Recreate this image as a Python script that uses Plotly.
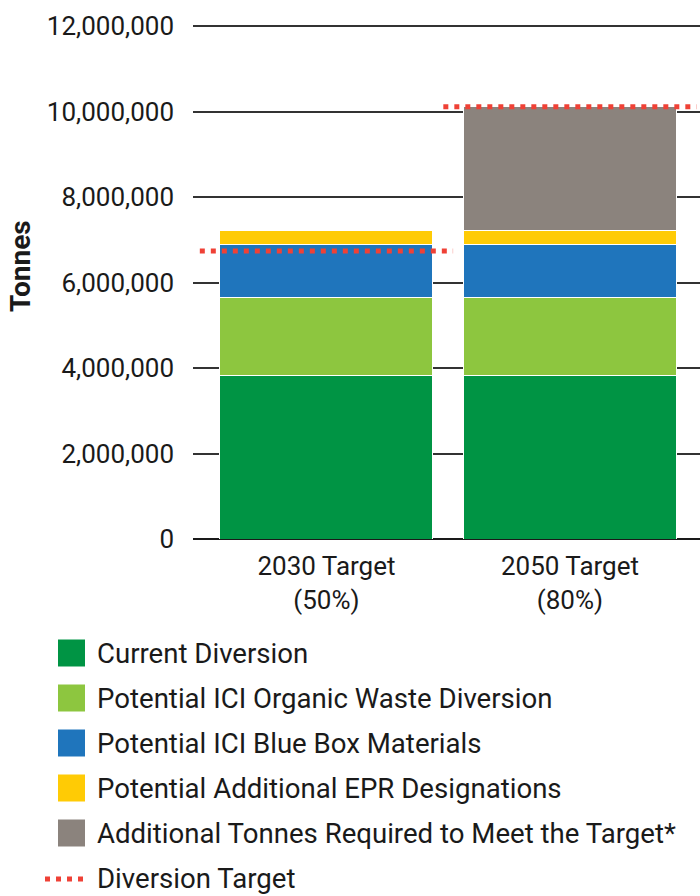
import plotly.graph_objects as go

# Data
categories = ["2030 Target<br>(50%)", "2050 Target<br>(80%)"]
current_diversion = [3820000, 3820000]
organic_waste = [1830000, 1830000]
blue_box = [1230000, 1230000]
epr_designations = [340000, 340000]
additional_required = [0, 2900000]
diversion_target = [6740000, 10110000]
y_ticks = [0, 2000000, 4000000, 6000000, 8000000, 10000000, 12000000]

series = [
    ("Current Diversion", current_diversion, "#009444"),
    ("Potential ICI Organic Waste Diversion", organic_waste, "#8DC63F"),
    ("Potential ICI Blue Box Materials", blue_box, "#1F75BC"),
    ("Potential Additional EPR Designations", epr_designations, "#FFCB05"),
    ("Additional Tonnes Required to Meet the Target*", additional_required, "#8B837D"),
]
TARGET_COLOR = "#EF4136"
TEXT_COLOR = "#1a1a1a"
FONT = "Roboto"

# Figure geometry (pixels)
W, H = 700, 896
M_LEFT, M_RIGHT, M_TOP, M_BOTTOM = 193, 0, 25, 357
PLOT_W = W - M_LEFT - M_RIGHT
PLOT_H = H - M_TOP - M_BOTTOM


def px_x(x):
    return (x - M_LEFT) / PLOT_W


def px_y(y):
    return (H - M_BOTTOM - y) / PLOT_H


x_pos = list(range(len(categories)))

fig = go.Figure()

for name, values, color in series:
    fig.add_trace(go.Bar(
        x=x_pos,
        y=values,
        name=name,
        width=0.875,
        marker=dict(color=color, line=dict(color="white", width=1)),
        showlegend=False,
    ))

# Diversion target dotted lines, one per bar
LINE_HALF = 0.52
for i, target in enumerate(diversion_target):
    fig.add_trace(go.Scatter(
        x=[i - LINE_HALF, i + LINE_HALF],
        y=[target, target],
        mode="lines",
        line=dict(color=TARGET_COLOR, width=5, dash="5px,6px"),
        showlegend=False,
        hoverinfo="skip",
    ))

# Hand-drawn legend below the chart (large square swatches)
legend_rows = [653, 698, 743, 788, 833]
for (name, _, color), row in zip(series, legend_rows):
    fig.add_shape(
        type="rect", xref="paper", yref="paper",
        x0=px_x(58), x1=px_x(85), y0=px_y(row + 13.5), y1=px_y(row - 13.5),
        fillcolor=color, line=dict(width=0),
    )
    fig.add_annotation(
        x=px_x(95), y=px_y(row), xref="paper", yref="paper",
        text=name, showarrow=False, xanchor="left", yanchor="middle",
        font=dict(family=FONT, size=27.6, color=TEXT_COLOR),
    )

fig.add_shape(
    type="line", xref="paper", yref="paper",
    x0=px_x(45), x1=px_x(86), y0=px_y(879), y1=px_y(879),
    line=dict(color=TARGET_COLOR, width=5, dash="5px,6px"),
)
fig.add_annotation(
    x=px_x(95), y=px_y(879), xref="paper", yref="paper",
    text="Diversion Target", showarrow=False, xanchor="left", yanchor="middle",
    font=dict(family=FONT, size=27.6, color=TEXT_COLOR),
)

# Y axis title
fig.add_annotation(
    x=px_x(20), y=px_y(266), xref="paper", yref="paper",
    text="<b>Tonnes</b>", showarrow=False, textangle=-90,
    xanchor="center", yanchor="middle",
    font=dict(family=FONT, size=28, color=TEXT_COLOR),
)

fig.update_layout(
    width=W,
    height=H,
    barmode="stack",
    plot_bgcolor="white",
    paper_bgcolor="white",
    margin=dict(l=M_LEFT, r=M_RIGHT, t=M_TOP, b=M_BOTTOM),
    font=dict(family=FONT, size=26, color=TEXT_COLOR),
    xaxis=dict(
        range=[-0.548, 1.534],
        tickvals=x_pos,
        ticktext=categories,
        showgrid=False,
        zeroline=False,
        showline=False,
        ticks="",
        ticklabelstandoff=9,
        tickfont=dict(family=FONT, size=26, color=TEXT_COLOR),
    ),
    yaxis=dict(
        # a hair above 12M so the top gridline is still drawn
        range=[0, 12025000],
        tickvals=y_ticks,
        tickformat=",d",
        showgrid=True,
        gridcolor="#333333",
        gridwidth=1.5,
        zeroline=True,
        zerolinecolor=TEXT_COLOR,
        zerolinewidth=1.5,
        ticks="",
        ticklabelstandoff=18,
        tickfont=dict(family=FONT, size=26, color=TEXT_COLOR),
    ),
    showlegend=False,
)

# drop the browser's default body margin so the figure sits at the page corner
fig.write_html(
    "out.html",
    config={"displayModeBar": False},
    post_script="document.body.style.margin='0';",
)
